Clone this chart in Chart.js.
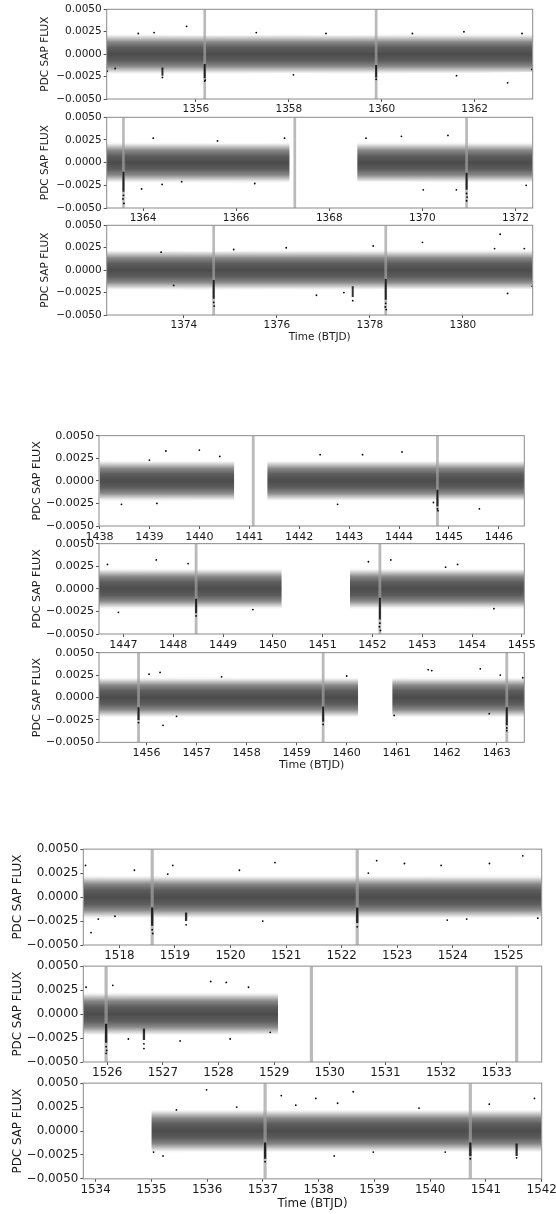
<!DOCTYPE html>
<html lang="en">
<head>
<meta charset="UTF-8">
<title>PDC SAP FLUX light curves</title>
<script src="https://cdn.jsdelivr.net/npm/chart.js"></script>
<style>
  html, body { margin: 0; padding: 0; background: #fff; overflow: hidden; }
  body { width: 556px; height: 1214px; position: relative; }
  canvas { position: absolute; left: 0; }
</style>
</head>
<body>
<script>
// ---------------- data ----------------
const yTicks = [-0.005, -0.0025, 0, 0.0025, 0.005];

// transit marker times per observing run
const g1Transits = [1356.19, 1359.88, 1363.58, 1367.26, 1370.95, 1374.64, 1378.34];
const g2Transits = [1441.08, 1444.77, 1448.46, 1452.15, 1455.84, 1459.53, 1463.20];
const g3Transits = [1518.59, 1522.28, 1525.98, 1529.67, 1533.36, 1537.04, 1540.72];

// --- run 1 ---
const g1p1Range = [1354.08, 1363.25];
const g1p1Ticks = [1356, 1358, 1360, 1362];
const g1p1Time = [1354.08, 1355, 1356, 1357, 1358, 1359, 1360, 1361, 1362, 1363.25];
const g1p1Hi = [0.0022, 0.0022, 0.0021, 0.0021, 0.0022, 0.0021, 0.0022, 0.0023, 0.0023, 0.0023];
const g1p1Lo = [-0.0022, -0.0022, -0.0022, -0.0022, -0.0021, -0.0022, -0.0022, -0.0021, -0.0021, -0.0020];
const g1p1Dips = [[1355.28, -0.0015, -0.0024], [1356.19, -0.0011, -0.0027], [1359.88, -0.0012, -0.0026]];
const g1p1Pts = [[1355.80, 0.0031], [1354.76, 0.0023], [1354.09, -0.0019], [1354.26, -0.0016],
  [1355.28, -0.0026], [1356.19, -0.0030], [1356.20, -0.0029], [1358.80, 0.0023], [1360.66, 0.0023],
  [1361.77, 0.0025], [1363.02, 0.0023], [1362.71, -0.0032], [1363.23, -0.0017], [1361.61, -0.0024],
  [1359.88, -0.0028], [1357.3, 0.0024], [1358.1, -0.0023], [1355.1, 0.0024]];

const g1p2Range = [1363.22, 1372.37];
const g1p2Ticks = [1364, 1366, 1368, 1370, 1372];
const g1p2Time = [1363.22, 1364, 1365, 1366, 1367.15, null, 1368.6, 1369.5, 1370.5, 1371.5, 1372.37];
const g1p2Hi = [0.0023, 0.0022, 0.0022, 0.0021, 0.0022, null, 0.0023, 0.0023, 0.0023, 0.0023, 0.0023];
const g1p2Lo = [-0.0022, -0.0022, -0.0022, -0.0023, -0.0022, null, -0.0021, -0.0021, -0.0022, -0.0022, -0.0022];
const g1p2Dips = [[1363.58, -0.0010, -0.0032], [1370.95, -0.0011, -0.0030]];
const g1p2Pts = [[1364.22, 0.0027], [1363.97, -0.0029], [1364.41, -0.0024], [1364.83, -0.0021],
  [1363.58, -0.0036], [1363.57, -0.0040], [1363.59, -0.0045], [1368.79, 0.0027], [1369.55, 0.0029],
  [1370.55, 0.0030], [1370.02, -0.0030], [1370.73, -0.0030], [1372.23, -0.0025], [1367.04, 0.0027],
  [1370.95, -0.0034], [1370.96, -0.0038], [1370.95, -0.0042], [1365.6, 0.0024], [1366.4, -0.0023]];

const g1p3Range = [1372.34, 1381.50];
const g1p3Ticks = [1374, 1376, 1378, 1380];
const g1p3Time = [1372.34, 1373.5, 1374.5, 1375.5, 1376.5, 1377.5, 1378.5, 1379.5, 1380.5, 1381.5];
const g1p3Hi = [0.0022, 0.0022, 0.0021, 0.0022, 0.0022, 0.0022, 0.0023, 0.0023, 0.0023, 0.0023];
const g1p3Lo = [-0.0022, -0.0022, -0.0023, -0.0022, -0.0022, -0.0022, -0.0021, -0.0021, -0.0021, -0.0021];
const g1p3Dips = [[1374.64, -0.0011, -0.0032], [1377.63, -0.0018, -0.0030], [1378.34, -0.0010, -0.0033]];
const g1p3Pts = [[1373.51, 0.0020], [1375.07, 0.0023], [1373.78, -0.0017], [1374.64, -0.0036],
  [1374.65, -0.0040], [1378.07, 0.0027], [1379.13, 0.0031], [1380.80, 0.0040], [1380.68, 0.0024],
  [1381.32, 0.0024], [1377.44, -0.0025], [1377.63, -0.0034], [1380.96, -0.0026], [1381.49, -0.0018],
  [1376.85, -0.0028], [1378.34, -0.0037], [1378.33, -0.0041], [1378.35, -0.0044], [1376.2, 0.0025]];

// --- run 2 ---
const g2p1Range = [1437.99, 1446.51];
const g2p1Ticks = [1438, 1439, 1440, 1441, 1442, 1443, 1444, 1445, 1446];
const g2p1Time = [1438.0, 1439, 1440, 1440.70, null, 1441.36, 1442, 1443, 1444, 1445, 1446, 1446.51];
const g2p1Hi = [0.0023, 0.0022, 0.0022, 0.0022, null, 0.0022, 0.0022, 0.0022, 0.0022, 0.0022, 0.0022, 0.0022];
const g2p1Lo = [-0.0022, -0.0023, -0.0022, -0.0022, null, -0.0022, -0.0022, -0.0022, -0.0022, -0.0022, -0.0022, -0.0022];
const g2p1Dips = [[1444.77, -0.0010, -0.0028]];
const g2p1Pts = [[1439.33, 0.0033], [1440.00, 0.0034], [1439.00, 0.0023], [1440.41, 0.0027],
  [1438.44, -0.0026], [1439.15, -0.0025], [1442.42, 0.0029], [1444.06, 0.0032], [1445.61, -0.0031],
  [1443.27, 0.0029], [1442.77, -0.0026], [1444.69, -0.0024], [1444.77, -0.0031], [1444.78, -0.0033]];

const g2p2Range = [1446.51, 1455.05];
const g2p2Ticks = [1447, 1448, 1449, 1450, 1451, 1452, 1453, 1454, 1455];
const g2p2Time = [1446.51, 1447.5, 1448.5, 1449.5, 1450.18, null, 1451.55, 1452.5, 1453.5, 1454.5, 1455.05];
const g2p2Hi = [0.0023, 0.0022, 0.0022, 0.0022, 0.0022, null, 0.0023, 0.0022, 0.0022, 0.0022, 0.0022];
const g2p2Lo = [-0.0022, -0.0022, -0.0022, -0.0022, -0.0022, null, -0.0022, -0.0022, -0.0022, -0.0023, -0.0022];
const g2p2Dips = [[1448.46, -0.0011, -0.0027], [1452.15, -0.0010, -0.0034]];
const g2p2Pts = [[1446.68, 0.0027], [1447.66, 0.0032], [1448.30, 0.0028], [1446.90, -0.0026],
  [1448.46, -0.0030], [1451.92, 0.0030], [1452.37, 0.0032], [1453.71, 0.0027], [1454.44, -0.0022],
  [1453.47, 0.0024], [1452.15, -0.0038], [1452.14, -0.0042], [1452.16, -0.0046], [1449.6, -0.0023]];

const g2p3Range = [1455.05, 1463.55];
const g2p3Ticks = [1456, 1457, 1458, 1459, 1460, 1461, 1462, 1463];
const g2p3Time = [1455.05, 1456, 1457, 1458, 1459, 1460.23, null, 1460.91, 1461.5, 1462.5, 1463.55];
const g2p3Hi = [0.0022, 0.0022, 0.0023, 0.0022, 0.0022, 0.0022, null, 0.0022, 0.0023, 0.0023, 0.0022];
const g2p3Lo = [-0.0022, -0.0022, -0.0022, -0.0022, -0.0022, -0.0022, null, -0.0022, -0.0022, -0.0022, -0.0022];
const g2p3Dips = [[1455.84, -0.0011, -0.0025], [1459.53, -0.0010, -0.0027], [1463.20, -0.0011, -0.0031]];
const g2p3Pts = [[1456.27, 0.0028], [1457.50, 0.0023], [1456.33, -0.0031], [1456.60, -0.0021],
  [1456.05, 0.0026], [1455.84, -0.0028], [1461.63, 0.0031], [1462.67, 0.0032], [1460.00, 0.0024],
  [1463.52, 0.0022], [1459.53, -0.0030], [1460.95, -0.0020], [1462.85, -0.0018], [1461.70, 0.0030],
  [1463.07, 0.0025], [1463.20, -0.0034], [1463.20, -0.0037]];

// --- run 3 ---
const g3p1Range = [1517.35, 1525.60];
const g3p1Ticks = [1518, 1519, 1520, 1521, 1522, 1523, 1524, 1525];
const g3p1Time = [1517.35, 1518, 1519, 1520, 1521, 1522, 1523, 1524, 1525, 1525.6];
const g3p1Hi = [0.0023, 0.0022, 0.0022, 0.0022, 0.0022, 0.0022, 0.0022, 0.0023, 0.0023, 0.0023];
const g3p1Lo = [-0.0023, -0.0022, -0.0022, -0.0022, -0.0022, -0.0022, -0.0022, -0.0022, -0.0022, -0.0021];
const g3p1Dips = [[1518.59, -0.0011, -0.0030], [1519.20, -0.0016, -0.0025], [1522.28, -0.0011, -0.0027]];
const g3p1Pts = [[1517.39, 0.0033], [1518.96, 0.0033], [1518.27, 0.0028], [1517.49, -0.0037],
  [1517.62, -0.0023], [1517.92, -0.0020], [1518.87, 0.0024], [1520.16, 0.0028], [1520.80, 0.0036],
  [1520.58, -0.0025], [1518.59, -0.0034], [1518.60, -0.0038], [1519.20, -0.0029], [1522.63, 0.0038],
  [1523.13, 0.0035], [1523.79, 0.0033], [1524.66, 0.0035], [1525.26, 0.0043], [1522.48, 0.0025],
  [1523.90, -0.0024], [1524.25, -0.0023], [1525.53, -0.0022], [1522.28, -0.0031]];

const g3p2Range = [1525.57, 1533.81];
const g3p2Ticks = [1526, 1527, 1528, 1529, 1530, 1531, 1532, 1533];
const g3p2Time = [1525.57, 1526.5, 1527.5, 1528.5, 1529.07];
const g3p2Hi = [0.0023, 0.0022, 0.0022, 0.0022, 0.0022];
const g3p2Lo = [-0.0022, -0.0022, -0.0022, -0.0022, -0.0021];
const g3p2Dips = [[1525.98, -0.0010, -0.0030], [1526.66, -0.0015, -0.0027]];
const g3p2Pts = [[1525.62, 0.0028], [1526.10, 0.0030], [1527.86, 0.0034], [1528.14, 0.0033],
  [1528.54, 0.0028], [1526.38, -0.0026], [1528.21, -0.0026], [1527.31, -0.0028], [1528.93, -0.0019],
  [1525.98, -0.0034], [1525.99, -0.0038], [1525.98, -0.0041], [1526.66, -0.0031], [1526.66, -0.0036]];

const g3p3Range = [1533.78, 1542.00];
const g3p3Ticks = [1534, 1535, 1536, 1537, 1538, 1539, 1540, 1541, 1542];
const g3p3Time = [1535.0, 1536, 1537, 1538, 1539, 1540, 1541, 1542];
const g3p3Hi = [0.0022, 0.0022, 0.0022, 0.0022, 0.0022, 0.0022, 0.0022, 0.0022];
const g3p3Lo = [-0.0023, -0.0022, -0.0022, -0.0022, -0.0022, -0.0022, -0.0022, -0.0022];
const g3p3Dips = [[1537.04, -0.0012, -0.0029], [1540.72, -0.0012, -0.0026], [1541.55, -0.0013, -0.0026]];
const g3p3Pts = [[1535.99, 0.0043], [1535.45, 0.0022], [1536.53, 0.0025], [1535.21, -0.0026],
  [1535.04, -0.0022], [1537.33, 0.0037], [1537.95, 0.0034], [1538.62, 0.0041], [1538.34, 0.0029],
  [1537.59, 0.0027], [1538.28, -0.0026], [1538.98, -0.0022], [1539.80, 0.0024], [1541.06, 0.0028],
  [1541.87, 0.0034], [1540.27, -0.0022], [1537.04, -0.0032], [1540.72, -0.0029], [1541.55, -0.0028]];

// ---------------- layout / style ----------------
const groups = [
  { font: 10.5, yTitleX: 45, L: 106.7, R: 532.7, titleOff: 22.7, barW: 2.7, dipW: 2,
    rows: [[9.3, 99.3], [117.3, 207.7], [225.3, 315.3]], transits: g1Transits },
  { font: 11.1, yTitleX: 37.3, L: 99, R: 524.3, titleOff: 23, barW: 2.8, dipW: 2,
    rows: [[435, 525.3], [543.3, 633.7], [651.7, 742]], transits: g2Transits },
  { font: 11.9, yTitleX: 17.7, L: 83.3, R: 541.7, titleOff: 25, barW: 3.2, dipW: 2.3,
    rows: [[848.3, 945], [965, 1061.7], [1081.7, 1178.3]], transits: g3Transits }
];

const panels = [
  [g1p1Range, g1p1Ticks, g1p1Time, g1p1Hi, g1p1Lo, g1p1Dips, g1p1Pts],
  [g1p2Range, g1p2Ticks, g1p2Time, g1p2Hi, g1p2Lo, g1p2Dips, g1p2Pts],
  [g1p3Range, g1p3Ticks, g1p3Time, g1p3Hi, g1p3Lo, g1p3Dips, g1p3Pts],
  [g2p1Range, g2p1Ticks, g2p1Time, g2p1Hi, g2p1Lo, g2p1Dips, g2p1Pts],
  [g2p2Range, g2p2Ticks, g2p2Time, g2p2Hi, g2p2Lo, g2p2Dips, g2p2Pts],
  [g2p3Range, g2p3Ticks, g2p3Time, g2p3Hi, g2p3Lo, g2p3Dips, g2p3Pts],
  [g3p1Range, g3p1Ticks, g3p1Time, g3p1Hi, g3p1Lo, g3p1Dips, g3p1Pts],
  [g3p2Range, g3p2Ticks, g3p2Time, g3p2Hi, g3p2Lo, g3p2Dips, g3p2Pts],
  [g3p3Range, g3p3Ticks, g3p3Time, g3p3Hi, g3p3Lo, g3p3Dips, g3p3Pts]
];

// density of the scatter band, from +0.0024 (0) to -0.0024 (1)
const bandStops = [[0, 0], [0.06, 0.04], [0.12, 0.2], [0.22, 0.47], [0.35, 0.64], [0.5, 0.7],
  [0.65, 0.64], [0.78, 0.47], [0.88, 0.2], [0.94, 0.04], [1, 0]];

const textColor = '#1a1a1a';
const fontFamily = "'DejaVu Sans', sans-serif";

function bandFill(c) {
  const chart = c.chart;
  if (!chart.chartArea) return 'rgba(0,0,0,0.45)';
  if (chart.$band) return chart.$band;
  const y = chart.scales.y;
  const g = chart.ctx.createLinearGradient(0, y.getPixelForValue(0.0024), 0, y.getPixelForValue(-0.0024));
  bandStops.forEach(([o, a]) => g.addColorStop(o, 'rgba(0,0,0,' + a + ')'));
  chart.$band = g;
  return g;
}

function fmtY(v) {
  if (Math.abs(v) < 1e-9) return '0.0000';
  return (v < 0 ? '\u2212' : '') + Math.abs(v).toFixed(4);
}

const frame = {
  id: 'frame',
  afterDraw(chart) {
    const { ctx, chartArea: a } = chart;
    ctx.save();
    ctx.strokeStyle = '#8a8a8a';
    ctx.lineWidth = 1;
    ctx.strokeRect(a.left, a.top, a.right - a.left, a.bottom - a.top);
    ctx.restore();
  }
};

function segments(time, hi, lo) {
  const segs = [];
  let cur = null;
  time.forEach((t, k) => {
    if (t === null) { cur = null; return; }
    if (!cur) { cur = { hi: [], lo: [] }; segs.push(cur); }
    cur.hi.push({ x: t, y: hi[k] });
    cur.lo.push({ x: t, y: lo[k] });
  });
  return segs;
}

function makePanel(idx) {
  const G = groups[Math.floor(idx / 3)];
  const row = idx % 3;
  const [range, ticks, time, hi, lo, dips, pts] = panels[idx];
  const [T, B] = G.rows[row];
  const lastRow = row === 2;
  const lh = G.font * 1.2;
  const padTop = 8;
  const xh = lastRow ? G.titleOff + lh / 2 + 1 : 20;
  const W = 580;
  const H = (B - T) + padTop + xh;

  const cv = document.createElement('canvas');
  cv.width = W; cv.height = Math.ceil(H);
  cv.style.width = W + 'px'; cv.style.height = Math.ceil(H) + 'px';
  cv.style.top = (T - padTop) + 'px';
  document.body.appendChild(cv);

  const datasets = [];
  segments(time, hi, lo).forEach(s => {
    datasets.push({ data: s.hi, fill: '+1', backgroundColor: bandFill, borderColor: 'rgba(0,0,0,0)',
      borderWidth: 0, pointRadius: 0, tension: 0.3, order: 3 });
    datasets.push({ data: s.lo, fill: false, borderColor: 'rgba(0,0,0,0)',
      borderWidth: 0, pointRadius: 0, tension: 0.3, order: 3 });
  });
  G.transits.forEach(t => {
    datasets.push({ data: [{ x: t, y: -0.005 }, { x: t, y: 0.005 }], fill: false,
      borderColor: 'rgba(160,160,160,0.72)', borderWidth: G.barW, pointRadius: 0, order: 2 });
  });
  dips.forEach(([t, a, b]) => {
    datasets.push({ data: [{ x: t, y: a }, { x: t, y: b }], fill: false,
      borderColor: 'rgba(0,0,0,0.8)', borderWidth: G.dipW, pointRadius: 0, order: 1 });
  });
  datasets.push({ data: pts.map(([x, y]) => ({ x, y })), showLine: false, pointRadius: 0.9,
    pointBackgroundColor: '#000', pointBorderWidth: 0, order: 0 });

  const font = { family: fontFamily, size: G.font };

  new Chart(cv, {
    type: 'line',
    data: { datasets },
    options: {
      responsive: false,
      animation: false,
      devicePixelRatio: 1,
      events: [],
      layout: { padding: { top: padTop, right: W - G.R, left: 0, bottom: 0 } },
      plugins: { legend: { display: false }, tooltip: { enabled: false } },
      scales: {
        x: {
          type: 'linear', position: 'bottom', min: range[0], max: range[1],
          afterFit: s => { s.height = xh; },
          afterBuildTicks: s => { s.ticks = ticks.map(v => ({ value: v })); },
          ticks: { callback: v => String(v), font, color: textColor, padding: 1, maxRotation: 0, autoSkip: false },
          grid: { drawOnChartArea: false, tickLength: 3, color: '#555' },
          border: { display: false },
          title: { display: lastRow, text: 'Time (BTJD)', font, color: textColor, padding: { top: 0, bottom: 1 } }
        },
        y: {
          type: 'linear', min: -0.005, max: 0.005,
          afterFit: s => { s.width = G.L; },
          afterBuildTicks: s => { s.ticks = yTicks.map(v => ({ value: v })); },
          ticks: { callback: fmtY, font, color: textColor, padding: 2 },
          grid: { drawOnChartArea: false, tickLength: 3, color: '#555' },
          border: { display: false },
          title: { display: true, text: 'PDC SAP FLUX', font, color: textColor,
            padding: { top: G.yTitleX - lh / 2, bottom: 0 } }
        }
      }
    },
    plugins: [frame]
  });
}

for (let i = 0; i < panels.length; i++) makePanel(i);
</script>
</body>
</html>
